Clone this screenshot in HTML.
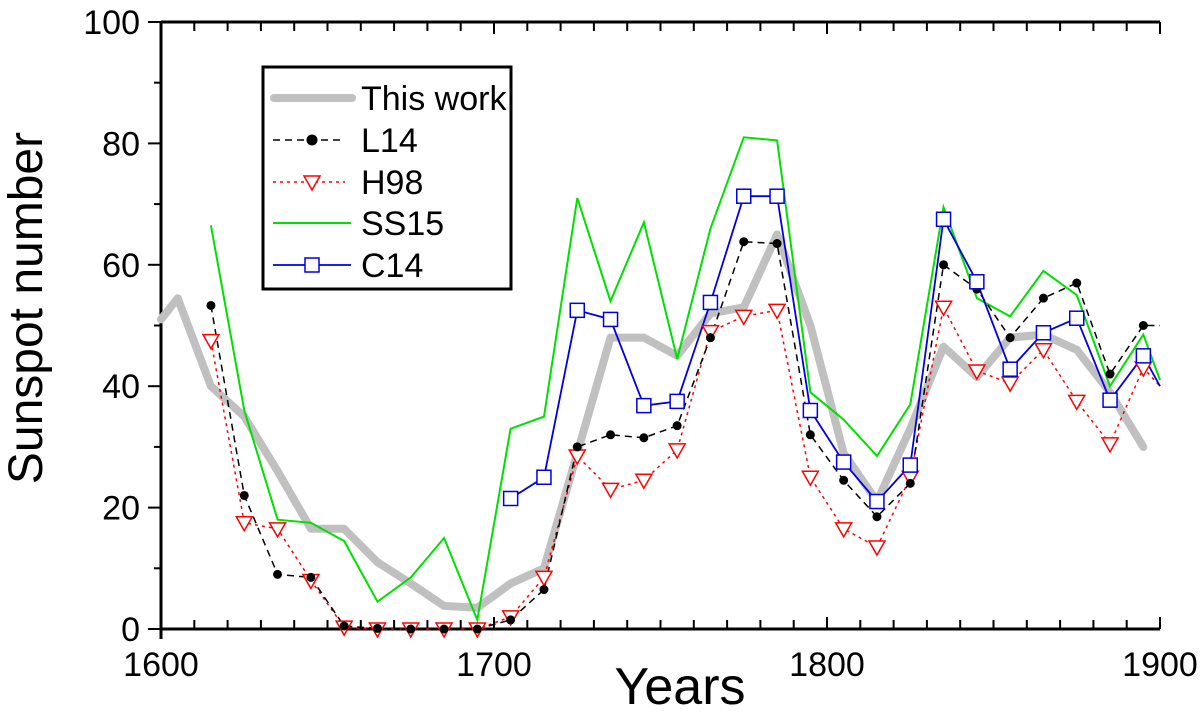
<!DOCTYPE html>
<html><head><meta charset="utf-8"><style>
body{margin:0;background:#fff}
svg text{font-family:"Liberation Sans",Arial,sans-serif;fill:#000}
</style></head><body>
<svg id="chart" width="1200" height="708" xmlns="http://www.w3.org/2000/svg">
<g id="axes"></g>
<g id="series"></g>
<text x="42" y="308" font-size="48" text-anchor="middle" transform="rotate(-90 42 308)">Sunspot number</text>
<text x="680" y="704" font-size="52" text-anchor="middle">Years</text>
<g id="legend">
<rect x="263" y="67" width="248" height="222" fill="#fff" stroke="#000" stroke-width="3"/>
</g>
</svg>
<script>
const decadeYears=[1605,1615,1625,1635,1645,1655,1665,1675,1685,1695,1705,1715,1725,1735,1745,1755,1765,1775,1785,1795,1805,1815,1825,1835,1845,1855,1865,1875,1885,1895];
const thisWorkYears=[1600].concat(decadeYears);
const thisWork=[51,54.5,40,35,26,16.5,16.5,11,7.5,3.8,3.5,7.5,10,29,48,48,45,52,53,65,50,29,21,33,46.5,41.5,48,48.5,46,39,30];
const l14Years=[1615,1625,1635,1645,1655,1665,1675,1685,1695,1705,1715,1725,1735,1745,1755,1765,1775,1785,1795,1805,1815,1825,1835,1845,1855,1865,1875,1885,1895,1900];
const l14=[53.3,22,9,8.5,0.5,0.1,0,0,0,1.5,6.5,30,32,31.5,33.5,48,63.8,63.5,32,24.5,18.5,24,60,56,48,54.5,57,42,50,50];
const h98=[47.5,17.5,16.5,8,0.3,0,0,0,0,2,8.5,28.5,23,24.5,29.5,49,51.5,52.5,25,16.5,13.5,25,53,42.5,40.5,46,37.5,30.5,43,40];
const ss15=[66.5,36,18,17.5,14.5,4.5,8.5,15,1.5,33,35,71,54,67,44.5,66,81,80.5,39,34.5,28.5,37,69.5,54.5,51.5,59,55,40,48.5,41];
const c14Years=[1705,1715,1725,1735,1745,1755,1765,1775,1785,1795,1805,1815,1825,1835,1845,1855,1865,1875,1885,1895,1900];
const c14=[21.5,25,52.5,51,36.8,37.5,53.8,71.3,71.3,36,27.5,21,27,67.5,57.2,42.8,48.8,51.2,37.7,45,40];
const xTicks=[1600,1700,1800,1900];
const yTicks=[0,20,40,60,80,100];
const NS='http://www.w3.org/2000/svg';
const X0=161,X1=1160,Y0=629,Y1=22;
const sx=v=>X0+(v-1600)/300*(X1-X0);
const sy=v=>Y0-v/100*(Y0-Y1);
function mk(tag,attrs,parent){const e=document.createElementNS(NS,tag);for(const k in attrs)e.setAttribute(k,attrs[k]);parent.appendChild(e);return e;}
const ax=document.getElementById('axes');
let e;
e=mk('line',{x1:X0,y1:Y0,x2:X1,y2:Y0,stroke:'#000','stroke-width':3},ax);


e=mk('line',{x1:X0,y1:Y1,x2:X1,y2:Y1,stroke:'#000','stroke-width':3},ax);


e=mk('line',{x1:X0,y1:Y1,x2:X0,y2:Y0+10,stroke:'#000','stroke-width':3},ax);


for(let yr=1600;yr<=1900;yr+=10){
  const major=(yr%100===0);const L=major?12:9;
  mk('line',{x1:sx(yr),y1:Y0,x2:sx(yr),y2:Y0-L,stroke:'#000','stroke-width':2},ax);
  mk('line',{x1:sx(yr),y1:Y1,x2:sx(yr),y2:Y1+L,stroke:'#000','stroke-width':2},ax);
}
for(let v=0;v<=100;v+=10){
  const major=(v%20===0);
  mk('line',{x1:X0,y1:sy(v),x2:X0-(major?13:7),y2:sy(v),stroke:'#000','stroke-width':2},ax);
}
xTicks.forEach(t=>{const tx=mk('text',{x:sx(t),y:676,'font-size':34,'text-anchor':'middle'},ax);tx.textContent=t;

});
yTicks.forEach(t=>{const tx=mk('text',{x:140,y:sy(t)+12,'font-size':34,'text-anchor':'end'},ax);tx.textContent=t;

});
const sg=document.getElementById('series');
function path(xs,ys){return xs.map((x,i)=>(i?'L':'M')+sx(x).toFixed(1)+','+sy(ys[i]).toFixed(1)).join('');}
e=mk('path',{d:path(thisWorkYears,thisWork),fill:'none',stroke:'#c0c0c0','stroke-width':8,'stroke-linejoin':'round','stroke-linecap':'round'},sg);


e=mk('path',{d:path(l14Years,ss15),fill:'none',stroke:'#00e000','stroke-width':2},sg);


e=mk('path',{d:path(l14Years,h98),fill:'none',stroke:'#ff0000','stroke-width':1.5,'stroke-dasharray':'3,4'},sg);


e=mk('path',{d:path(l14Years,l14),fill:'none',stroke:'#000','stroke-width':1.5,'stroke-dasharray':'7,5'},sg);


e=mk('path',{d:path(c14Years,c14),fill:'none',stroke:'#0000e0','stroke-width':1.8},sg);


function tri(cx,cy,p,stroke){return mk('path',{d:`M${cx-8},${cy-6}L${cx+8},${cy-6}L${cx},${cy+8}Z`,fill:'#fff',stroke:stroke,'stroke-width':1.5},p);}
l14Years.forEach((yr,i)=>{if(yr%10!==5)return;
  e=tri(sx(yr),sy(h98[i]),sg,'#ff0000');
  
  
  e=mk('circle',{cx:sx(yr),cy:sy(l14[i]),r:4.5,fill:'#000'},sg);
  
  
});
c14Years.forEach((yr,i)=>{if(yr%10!==5)return;
  e=mk('rect',{x:sx(yr)-7,y:sy(c14[i])-7,width:14,height:14,fill:'#fff',stroke:'#0000e0','stroke-width':1.5},sg);
  
  
});
const lg=document.getElementById('legend');
const rows=[98,140,182,223,265];
const names=['This work','L14','H98','SS15','C14'];
mk('line',{x1:274,y1:rows[0],x2:352,y2:rows[0],stroke:'#c0c0c0','stroke-width':8,'stroke-linecap':'round'},lg);
mk('line',{x1:273,y1:rows[1],x2:345,y2:rows[1],stroke:'#000','stroke-width':1.5,'stroke-dasharray':'7,5'},lg);
mk('circle',{cx:312,cy:rows[1],r:5.5,fill:'#000'},lg);
mk('line',{x1:273,y1:rows[2],x2:345,y2:rows[2],stroke:'#ff0000','stroke-width':1.5,'stroke-dasharray':'3,4'},lg);
tri(312,rows[2],lg,'#ff0000');
mk('line',{x1:273,y1:rows[3],x2:351,y2:rows[3],stroke:'#00e000','stroke-width':2},lg);
mk('line',{x1:273,y1:rows[4],x2:351,y2:rows[4],stroke:'#0000e0','stroke-width':1.8},lg);
mk('rect',{x:305,y:rows[4]-7,width:14,height:14,fill:'#fff',stroke:'#0000e0','stroke-width':1.5},lg);
names.forEach((n,i)=>{const t=mk('text',{x:361,y:rows[i]+12,'font-size':34},lg);t.textContent=n;

});
</script>
</body></html>
